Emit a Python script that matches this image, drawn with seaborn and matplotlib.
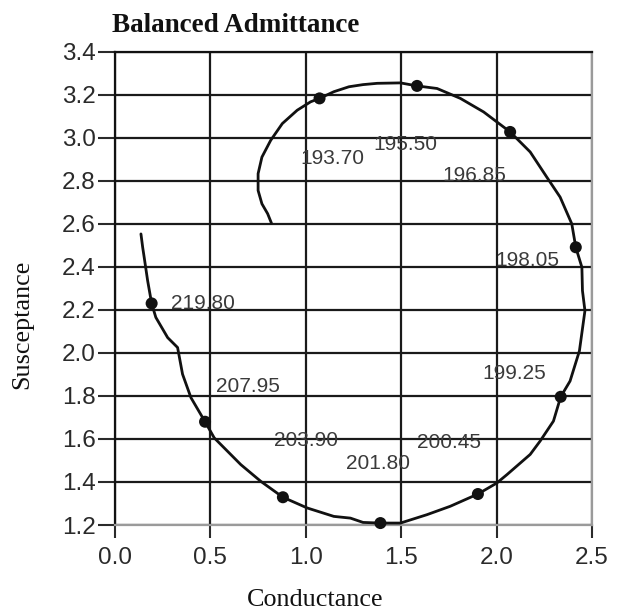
import pandas as pd
import matplotlib
matplotlib.use("Agg")
import matplotlib.pyplot as plt
import seaborn as sns

sns.set_style("white")
plt.rcParams["font.family"] = ["Liberation Sans", "DejaVu Sans"]

# ==========================
# DATA
# ==========================
# admittance locus, in drawing order
conductance = [0.82, 0.80, 0.77, 0.75, 0.75, 0.77, 0.816, 0.877, 0.955, 1.025,
               1.072, 1.147, 1.226, 1.30, 1.374, 1.496, 1.583, 1.688, 1.81, 1.932,
               2.071, 2.176, 2.263, 2.333, 2.394, 2.415, 2.447, 2.45, 2.463, 2.434,
               2.385, 2.336, 2.298, 2.228, 2.176, 2.054, 2.001, 1.902, 1.757, 1.635,
               1.496, 1.391, 1.30, 1.234, 1.147, 1.008, 0.88, 0.764, 0.659, 0.52,
               0.472, 0.398, 0.354, 0.328, 0.276, 0.214, 0.192, 0.171, 0.153, 0.145,
               0.136]
susceptance = [2.603, 2.647, 2.693, 2.755, 2.833, 2.91, 2.988, 3.066, 3.128, 3.167,
               3.183, 3.214, 3.237, 3.247, 3.253, 3.255, 3.241, 3.229, 3.183, 3.12,
               3.027, 2.934, 2.817, 2.724, 2.60, 2.491, 2.398, 2.289, 2.196, 2.009,
               1.869, 1.796, 1.683, 1.59, 1.528, 1.434, 1.395, 1.344, 1.287, 1.248,
               1.209, 1.209, 1.212, 1.232, 1.240, 1.279, 1.329, 1.403, 1.481, 1.605,
               1.68, 1.792, 1.901, 2.025, 2.071, 2.165, 2.23, 2.336, 2.444, 2.491,
               2.553]

# marked points and their frequency labels
dot_g = [1.072, 1.583, 2.071, 2.415, 2.336, 1.902, 1.391, 0.88, 0.472, 0.192]
dot_b = [3.183, 3.241, 3.027, 2.491, 1.796, 1.344, 1.209, 1.329, 1.68, 2.23]
freq_labels = ["193.70", "195.50", "196.85", "198.05", "199.25",
               "200.45", "201.80", "203.90", "207.95", "219.80"]

# where each label sits (left edge, vertical centre)
label_pos = [(0.97, 2.904), (1.354, 2.970), (1.715, 2.825), (1.995, 2.429),
             (1.925, 1.902), (1.584, 1.582), (1.212, 1.484), (0.833, 1.593),
             (0.528, 1.846), (0.295, 2.230)]

x_ticks = [0.0, 0.5, 1.0, 1.5, 2.0, 2.5]
y_ticks = [1.2, 1.4, 1.6, 1.8, 2.0, 2.2, 2.4, 2.6, 2.8, 3.0, 3.2, 3.4]

curve = pd.DataFrame({"G": conductance, "B": susceptance})
dots = pd.DataFrame({"G": dot_g, "B": dot_b})

# ==========================
# PLOT
# ==========================
W, H = 619, 612
fig = plt.figure(figsize=(W / 100, H / 100), dpi=100)
ax = fig.add_axes([115 / W, 1 - 525 / H, (592 - 115) / W, (525 - 51.7) / H])

sns.lineplot(data=curve, x="G", y="B", sort=False, estimator=None,
             color="#111111", linewidth=2.0, ax=ax, zorder=3, clip_on=False)
sns.scatterplot(data=dots, x="G", y="B", s=75, color="#111111",
                edgecolor="none", ax=ax, zorder=4, clip_on=False)

for txt, (gx, by) in zip(freq_labels, label_pos):
    ax.text(gx, by, txt, ha="left", va="center", fontsize=15,
            color="#3a3a3a", zorder=2)

ax.set_xlim(0, 2.5)
ax.set_ylim(1.2, 3.4)
ax.set_xticks(x_ticks)
ax.set_yticks(y_ticks)
ax.set_xticklabels([f"{v:.1f}" for v in x_ticks])
ax.set_yticklabels([f"{v:.1f}" for v in y_ticks])
ax.set_xlabel("")
ax.set_ylabel("")

ax.set_axisbelow(True)
ax.grid(True, color="#1a1a1a", linewidth=1.6)

ax.tick_params(axis="y", direction="out", length=12, width=1.5, pad=2,
               labelsize=17.5, labelcolor="#2a2a2a", color="#2a2a2a", left=True)
ax.tick_params(axis="x", direction="out", length=9.5, width=1.5, pad=6,
               labelsize=17.5, labelcolor="#2a2a2a", color="#2a2a2a", bottom=True)

for side in ["left", "top"]:
    ax.spines[side].set_color("#111111")
    ax.spines[side].set_linewidth(1.6)
for side in ["right", "bottom"]:
    ax.spines[side].set_color("#9a9a9a")
    ax.spines[side].set_linewidth(1.6)

serif = ["Liberation Serif", "DejaVu Serif"]
fig.text(112 / W, 1 - 32 / H, "Balanced Admittance", family=serif,
         fontweight="bold", fontsize=19.5, ha="left", va="baseline", color="#111111")
fig.text(315 / W, 1 - 600 / H, "Conductance", family=serif, fontsize=18.8,
         ha="center", va="center", color="#111111")
fig.text(22 / W, 1 - 324 / H, "Susceptance", family=serif, fontsize=18.8,
         ha="center", va="center", rotation=90, color="#111111")

fig.savefig("out.png", dpi=100)
